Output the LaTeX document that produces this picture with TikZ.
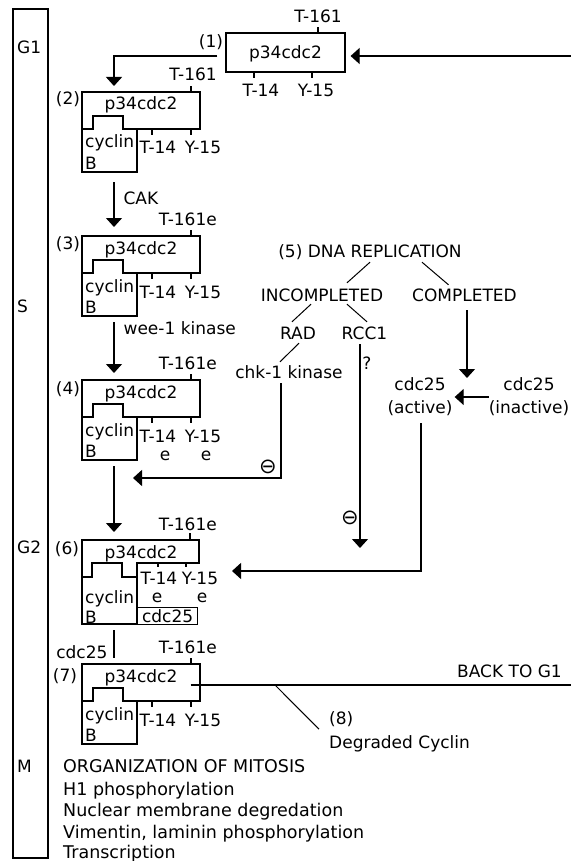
\documentclass[tikz,border=0pt]{standalone}
\usepackage{fontspec}
\setmainfont{DejaVu Sans}
\usepackage{tikz}
\usetikzlibrary{arrows.meta, positioning}

% p34cdc2 / cyclin B complex, #1 name, #2 top edge, #3 T-161 label
\newcommand{\cdccomplex}[3]{%
  \draw[boxline] (82,#2) -- ++(118,0) -- ++(0,37) -- ++(-77,0) -- ++(0,-13)
    -- ++(-30,0) -- ++(0,13) -- ++(-11,0) -- cycle;
  \draw[boxline] (82,{#2+37}) -- ++(0,43) -- ++(55,0) -- ++(0,-43);
  \draw[boxline] (191,#2) -- ++(0,-6);
  \draw[boxline] (152,{#2+37}) -- ++(0,6);
  \draw[boxline] (191,{#2+37}) -- ++(0,6);
  \node[txt] (#1) at (141,{#2+12}) {p34cdc2};
  \node[txt, anchor=west] (#1cyc) at (85,{#2+50}) {cyclin};
  \node[txt, anchor=west] (#1b) at (85,{#2+71}) {B};
  \node[txt, anchor=east] (#1tag) at (217,{#2-17}) {#3};
  \node[txt] (#1t) at (158,{#2+56}) {T-14};
  \node[txt] (#1y) at (203,{#2+56}) {Y-15};
  \coordinate (#1top) at (114,#2);
  \coordinate (#1bot) at (114,{#2+80});
}

\begin{document}
\begin{tikzpicture}[x=1pt, y=-1pt,
    txt/.style={font=\fontsize{17}{23}\selectfont, inner sep=0pt, text height=12pt, text depth=0pt},
    listtxt/.style={font=\fontsize{17.5}{23}\selectfont, inner sep=0pt, text height=12pt, text depth=0pt, anchor=west},
    boxline/.style={line width=1.2pt},
    thinline/.style={line width=1pt},
    arr/.style={line width=1.2pt, -{Triangle[width=16pt,length=9pt]}},
    inh/.style={font=\fontsize{21}{23}\selectfont, inner sep=0pt}
]
    \path[use as bounding box, fill=white] (0,0) rectangle (570,861);

    % cell cycle phases
    \draw[boxline] (13,9) rectangle (48,858);
    \node[txt, anchor=west] (g1) at (17,48) {G1};
    \node[txt, anchor=west] (s) at (17,306) {S};
    \node[txt, anchor=west] (g2) at (17,547) {G2};
    \node[txt, anchor=west] (m) at (17,766) {M};

    % (1) free p34cdc2
    \node[txt, draw, boxline, minimum width=119pt, minimum height=39pt] (p1) at (285.5,52.5) {p34cdc2};
    \draw[boxline] (318,33) -- ++(0,-6);
    \draw[boxline] (254,72) -- ++(0,6);
    \draw[boxline] (312,72) -- ++(0,6);
    \node[txt] (p1tag) at (318,17) {T-161};
    \node[txt] (p1t) at (261,91) {T-14};
    \node[txt] (p1y) at (316,91) {Y-15};
    \node[txt] (n1) at (211,42) {(1)};

    % (2) (3) (4) complexes
    \cdccomplex{b2}{92}{T-161}
    \node[txt] (n2) at (68,99) {(2)};
    \cdccomplex{b3}{236}{T-161e}
    \node[txt] (n3) at (68,243) {(3)};
    \cdccomplex{b4}{380}{T-161e}
    \node[txt] (n4) at (68,388) {(4)};
    \node[txt] (b4te) at (165,454) {e};
    \node[txt] (b4ye) at (206,454) {e};

    % (6) complex with cdc25
    \draw[boxline] (82,540) -- (199,540) -- (199,563) -- (137,563) -- (137,577) -- (122,577)
        -- (122,563) -- (92,563) -- (92,577) -- (82,577) -- cycle;
    \draw[boxline] (82,577) -- (82,624) -- (137,624) -- (137,577);
    \draw[boxline] (190,540) -- ++(0,-7);
    \draw[boxline] (158,563) -- ++(0,4);
    \draw[boxline] (186,563) -- ++(0,4);
    \node[txt] (b6) at (141,552) {p34cdc2};
    \node[txt, anchor=west] (b6cyc) at (85,597) {cyclin};
    \node[txt, anchor=west] (b6b) at (85,617) {B};
    \node[txt, draw, boxline, minimum width=60pt, minimum height=17pt, anchor=north west] (b6cdc) at (137,607) {cdc25};
    \node[txt, anchor=east] (b6tag) at (217,524) {T-161e};
    \node[txt] (b6t) at (159,578) {T-14};
    \node[txt] (b6y) at (200,578) {Y-15};
    \node[txt] (b6te) at (157,596) {e};
    \node[txt] (b6ye) at (202,596) {e};
    \node[txt] (n6) at (67,548) {(6)};
    \coordinate (b6top) at (114,540);
    \coordinate (b6bot) at (114,624);

    % (7)
    \cdccomplex{b7}{664}{T-161e}
    \node[txt] (n7) at (65,675) {(7)};

    % main route
    \coordinate (g1in) at (572,56);
    \draw[arr, shorten >=5pt] (g1in) -- (g1in -| p1.east);
    \draw[arr, shorten <=8pt, shorten >=6pt] ([yshift=-3.5pt]p1.west) -| (b2top);
    \draw[arr, shorten <=10pt, shorten >=9pt] (b2bot) -- node[txt, pos=0.41, right=9pt] (cak) {CAK} (b3top);
    \draw[arr, shorten <=6pt, shorten >=7pt] (b3bot) -- node[txt, pos=0.2, right=9pt] (wee) {wee-1 kinase} (b4top);
    \draw[arr, shorten <=6pt, shorten >=8pt] (b4bot) -- (b6top);
    \draw[boxline, shorten <=6pt, shorten >=6pt] (b6bot) -- node[txt, pos=0.7, left=6pt] (cdc7) {cdc25} (b7top);

    % (5) DNA replication checkpoint
    \node[txt] (dna) at (370,251) {(5) DNA REPLICATION};
    \node[txt] (incomp) at (322,295) {INCOMPLETED};
    \node[txt] (comp) at (464.5,295) {COMPLETED};
    \node[txt] (rad) at (298,333) {RAD};
    \node[txt] (rcc) at (364.5,333) {RCC1};
    \node[txt] (chk) at (289,372) {chk-1 kinase};
    \node[txt] (qm) at (367,363) {?};
    \node[font=\fontsize{17}{23}\selectfont, inner sep=0pt, align=center] (act) at (420,397) {cdc25\\(active)};
    \node[font=\fontsize{17}{23}\selectfont, inner sep=0pt, align=center] (inact) at (529,397) {cdc25\\(inactive)};

    \draw[thinline] ([yshift=-5pt]dna.south) -- ([xshift=25pt,yshift=6pt]incomp.north);
    \draw[thinline] ([xshift=52pt,yshift=-5pt]dna.south) -- ([xshift=-16pt,yshift=4pt]comp.north);
    \draw[thinline] ([xshift=-11pt,yshift=-3pt]incomp.south) -- ([xshift=-6pt,yshift=5pt]rad.north);
    \draw[thinline] ([xshift=25pt,yshift=-3pt]incomp.south) -- ([xshift=2.5pt,yshift=5pt]rcc.north);
    \draw[thinline] ([xshift=1pt,yshift=-4pt]rad.south) -- ([xshift=-9pt,yshift=4pt]chk.north);

    \coordinate (rccend) at (360,548);
    \draw[arr, shorten <=5pt] (rccend |- rcc.south) -- (rccend);
    \node[inh] (inh2) at (350,518) {⊖};

    \coordinate (chkcorner) at (281,478);
    \coordinate (chkend) at (133,478);
    \draw[arr, shorten <=5pt] (chkcorner |- chk.south) -- (chkcorner) -- (chkend);
    \node[inh] (inh1) at (268,467) {⊖};

    \coordinate (compend) at (467,378);
    \draw[arr, shorten <=9pt] (compend |- comp.south) -- (compend);
    \draw[arr, shorten >=2pt] (inact.west) -- (act.east);

    \coordinate (actcorner) at (421,571);
    \coordinate (actend) at (232,571);
    \draw[arr, shorten <=7pt] (actcorner |- act.south) -- (actcorner) -- (actend);

    % (8) exit from mitosis
    \coordinate (back) at (572,685);
    \draw[boxline, shorten <=13pt] (back -| b7.east) -- (back);
    \node[txt, anchor=west] (backg1) at (457,671) {BACK TO G1};
    \coordinate (degsplit) at (275,685);
    \node[txt, anchor=west] (deg8) at (329,718) {(8)};
    \node[txt, anchor=west] (degcyc) at (329,742) {Degraded Cyclin};
    \draw[thinline] (degsplit) -- ([xshift=-10pt,yshift=-5pt]deg8.south west);

    % mitosis events
    \node[listtxt] (org) at (63,766) {ORGANIZATION OF MITOSIS};
    \node[listtxt] (h1) at (63,789) {H1 phosphorylation};
    \node[listtxt] (nuc) at (63,810) {Nuclear membrane degredation};
    \node[listtxt] (vim) at (63,832) {Vimentin, laminin phosphorylation};
    \node[listtxt] (trans) at (63,852) {Transcription};
\end{tikzpicture}
\end{document}
